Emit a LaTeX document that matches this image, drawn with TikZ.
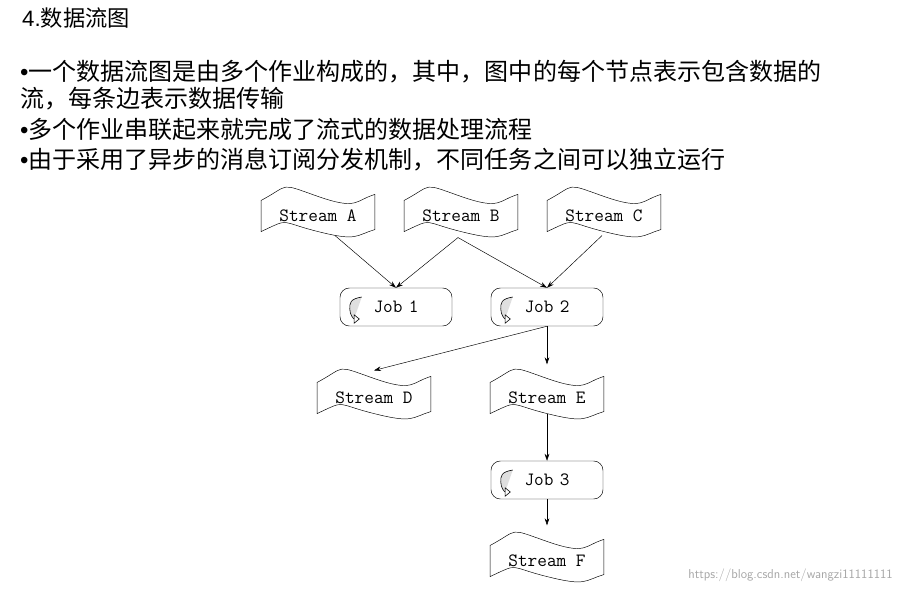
\documentclass[tikz,border=0pt]{standalone}
\usepackage{fontspec}
\newfontfamily\cjk{Noto Sans CJK SC}
\newfontfamily\latn{Liberation Sans}
\usetikzlibrary{arrows.meta}
\usetikzlibrary{calc}
\usetikzlibrary{positioning}

\newcommand{\bul}{{\latn •}}

\tikzset{
  stream/.style={minimum width=3.4cm, minimum height=1.1cm, inner sep=0pt, font=\ttfamily\fontsize{16}{17}\selectfont},
  job/.style={draw, rounded corners=8pt, minimum width=3.36cm, minimum height=1.14cm, font=\ttfamily\fontsize{16}{17}\selectfont, text width=2.4cm, align=center},
  flow/.style={-{Stealth[length=6pt,width=4pt]}, thin},
  bullet/.style={anchor=west, font=\cjk\fontsize{20.5}{22}\selectfont, inner sep=0pt}
}

\begin{document}
\begin{tikzpicture}[x=0.03cm, y=-0.03cm]
	\useasboundingbox (0,0) rectangle (901,592);
	% text
	\node[bullet, font=\cjk\fontsize{19}{20}\selectfont] (title) at (22,18) {{\latn 4.}数据流图};
	\node[bullet] (l1) at (20,72) {\bul 一个数据流图是由多个作业构成的，其中，图中的每个节点表示包含数据的};
	\node[bullet] (l2) at (20,99) {流，每条边表示数据传输};
	\node[bullet] (l3) at (20,129) {\bul 多个作业串联起来就完成了流式的数据处理流程};
	\node[bullet] (l4) at (20,160) {\bul 由于采用了异步的消息订阅分发机制，不同任务之间可以独立运行};

	% streams
	\node[stream] (sa) at (318,217) {\raisebox{3pt}{Stream A}};
	\node[stream] (sb) at (461,217) {\raisebox{3pt}{Stream B}};
	\node[stream] (sc) at (604,217) {\raisebox{3pt}{Stream C}};
	\node[stream] (sd) at (374,399) {\raisebox{3pt}{Stream D}};
	\node[stream] (se) at (547,399) {\raisebox{3pt}{Stream E}};
	\node[stream] (sf) at (547,562) {\raisebox{3pt}{Stream F}};
	\foreach \s in {sa,sb,sc,sd,se,sf}{
		\draw ($(\s.north west)+(0,2)$) .. controls +(30,-16) and +(-40,-14) .. ($(\s.north)+(0,-2)$)
			.. controls +(40,14) and +(-20,6) .. ($(\s.north east)+(0,-4)$)
			-- ($(\s.south east)+(0,-6)$)
			.. controls +(-20,6) and +(40,10) .. ($(\s.south)+(0,-4)$)
			.. controls +(-40,-10) and +(30,-14) .. ($(\s.south west)+(0,-4)$) -- cycle;
	}

	% jobs
	\node[job] (j1) at (396,307) {Job 1};
	\node[job] (j2) at (547,307) {Job 2};
	\node[job] (j3) at (547,480) {Job 3};
	\foreach \j in {j1,j2,j3}{
		\draw[fill=gray!25, line width=0.5pt, -{Triangle[open,length=5pt,width=8pt]}]
			($(\j.west)+(22,-10)$) .. controls +(-12,2) and +(0,-6) .. ($(\j.west)+(10,2)$)
			.. controls +(0,6) and +(-6,0) .. ($(\j.west)+(20,12)$);
	}

	% connectors
	\draw[flow] ($(sa.south)+(17,0)$) -- (j1.north);
	\draw[flow] ($(sb.south)+(-3,2)$) -- (j1.north);
	\draw[flow] ($(sb.south)+(-3,2)$) -- (j2.north);
	\draw[flow] ($(sc.south)+(-2,0)$) -- (j2.north);
	\draw[flow] (j2.south) -- ($(sd.north)+(0,-10)$);
	\draw[flow] (j2.south) -- ($(se.north)+(0,-16)$);
	\draw[flow] ($(se.south)+(0,-4)$) -- (j3.north);
	\draw[flow] (j3.south) -- ($(sf.north)+(0,-18)$);

	\node[anchor=east, font=\fontsize{11}{12}\selectfont\sffamily, text=gray!70, inner sep=0pt] (wm) at (893,575) {https://blog.csdn.net/wangzi11111111};
\end{tikzpicture}
\end{document}
